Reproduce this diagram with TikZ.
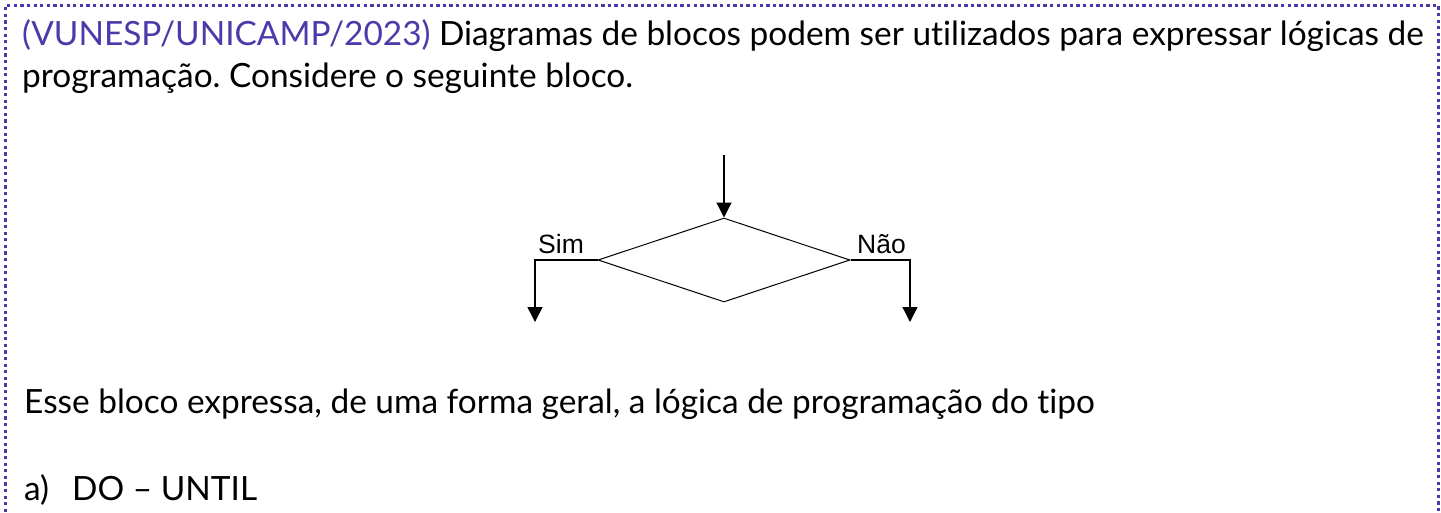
\documentclass[tikz,border=0pt]{standalone}
\usepackage{fontspec}
\setmainfont[Ligatures=NoCommon]{Lato}
\newfontfamily\diagfont{Liberation Sans}
\usetikzlibrary{arrows.meta}
\usetikzlibrary{shapes.geometric}
\usepackage{xcolor}
\definecolor{roxo}{RGB}{74,58,170}
\frenchspacing

\begin{document}
\begin{tikzpicture}[line cap=butt,line join=miter,>={Triangle[length=15pt,width=15pt]},x=1pt,y=-1pt,
  texto/.style={anchor=base west,inner sep=0pt,font=\fontsize{33.4}{40}\selectfont},
  rotulo/.style={anchor=base west,inner sep=0pt,font=\diagfont\fontsize{26.5}{31}\selectfont},
  moldura/.style={color=roxo,line width=3.3pt,dash pattern=on 3.3pt off 3.3pt}]
\useasboundingbox (0,0) rectangle (1441,512);

%moldura pontilhada
\draw[moldura] (5.5,512) -- (5.5,5.5) -- (1438.5,5.5) -- (1438.5,512);

%enunciado
\node[texto] (l1) at (22,45) {\textcolor{roxo}{(VUNESP/UNICAMP/2023)} Diagramas de blocos podem ser utilizados para expressar lógicas de};
\node[texto] (l2) at (22,87) {programação. Considere o seguinte bloco.};

%bloco de decisao
\node[draw,diamond,line width=1pt,inner sep=0pt,minimum width=252pt,minimum height=84pt] (dec) at (724,260) {};
\coordinate (entrada) at (724,155);
\coordinate (sim) at (535,322);
\coordinate (nao) at (910,322);
\draw[->,line width=1.3pt] (entrada) -- (dec.north);
\draw[->,line width=1.3pt] (dec.west) -| (sim);
\draw[->,line width=1.3pt] (dec.east) -| (nao);
\node[rotulo] (tsim) at (538,253) {Sim};
\node[rotulo] (tnao) at (857,253) {Não};

%pergunta e alternativa
\node[texto] (l3) at (24,413) {Esse bloco expressa, de uma forma geral, a lógica de programação do tipo};
\node[texto] (alt) at (24,500) {a)};
\node[texto] (alta) at (72,500) {DO – UNTIL};
\end{tikzpicture}
\end{document}
